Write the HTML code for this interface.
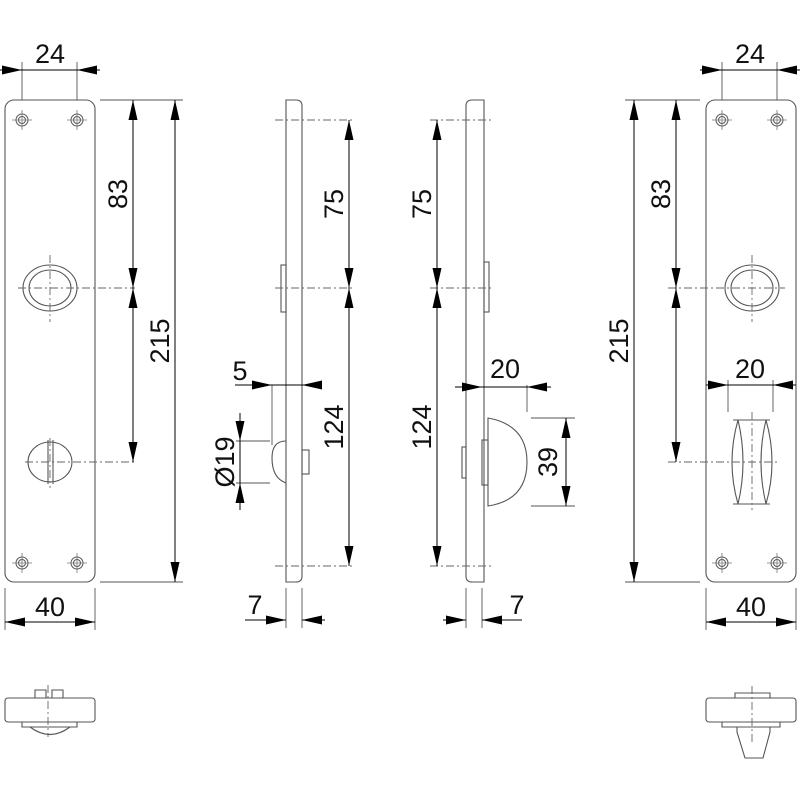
<!DOCTYPE html>
<html><head><meta charset="utf-8"><style>
html,body{margin:0;padding:0;background:#fff;width:800px;height:800px;overflow:hidden}
text{font-family:"Liberation Sans",Arial,sans-serif;font-size:27px;fill:#111}
</style></head><body>
<svg width="800" height="800" viewBox="0 0 800 800" xmlns="http://www.w3.org/2000/svg">
<defs>
<marker id="a" viewBox="0 0 20 9" refX="20" refY="4.5" markerWidth="20" markerHeight="9" markerUnits="userSpaceOnUse" orient="auto-start-reverse"><path d="M0,0L20,4.5L0,9z" fill="#000"/></marker>
<g id="scr"><circle r="6" fill="none" stroke="#555" stroke-width="1"/><circle r="3.5" fill="none" stroke="#555" stroke-width="1"/><line x1="-10" y1="0" x2="10" y2="0" stroke="#777" stroke-width="0.8"/><line x1="0" y1="-10" x2="0" y2="10" stroke="#777" stroke-width="0.8"/></g>
</defs>
<g fill="none" stroke="#555" stroke-width="1.1">
<rect x="5" y="100" width="90" height="482" rx="9"/>
<ellipse cx="50" cy="288" rx="27" ry="23"/><ellipse cx="50" cy="288" rx="21" ry="18"/>
<ellipse cx="50" cy="462" rx="22" ry="20"/>
<line x1="48" y1="440" x2="48" y2="484"/><line x1="53" y1="440" x2="53" y2="484"/>
<rect x="706" y="100" width="90" height="482" rx="9"/>
<ellipse cx="752" cy="288" rx="27" ry="23"/><ellipse cx="752" cy="288" rx="21" ry="18"/>
<path d="M733,420 H770 M733,504 H770"/>
<path d="M738,420 Q726,462 738,504"/><path d="M738,420 Q748,462 738,504"/>
<path d="M766,420 Q756,462 766,504"/><path d="M766,420 Q778,462 766,504"/>
<path d="M286,100 H296 Q302,100 302,106 V576 Q302,582 296,582 H286Z"/>
<rect x="281" y="265" width="5" height="47"/>
<path d="M286,441 Q272,441 272,458 Q272,478 286,483"/>
<rect x="302" y="450" width="7" height="24"/>
<path d="M472,100 H484 V582 H472 Q466,582 466,576 V106 Q466,100 472,100Z"/>
<rect x="484" y="262" width="5" height="50"/>
<rect x="462" y="447" width="4" height="31"/>
<rect x="482" y="440" width="6" height="45"/>
<path d="M488,418 Q527,425 527,462 Q527,500 488,506 Z"/>
<rect x="5" y="698" width="90" height="24" rx="3"/>
<path d="M35,698 V690 H46 V698 M52,698 V690 H63 V698"/>
<path d="M22,722 V727 H77 V722"/>
<path d="M30,727 Q50,742 70,727"/>
<rect x="706" y="698" width="90" height="24" rx="3"/>
<path d="M735,698 V693 H770 V698"/>
<path d="M722,722 V727 H780 V722"/>
<path d="M737,727 V732 L745,758 H763 L770,732 V727"/>
</g>
<use href="#scr" x="22" y="120"/><use href="#scr" x="77" y="120"/><use href="#scr" x="22" y="563"/><use href="#scr" x="77" y="563"/>
<use href="#scr" x="722" y="120"/><use href="#scr" x="777" y="120"/><use href="#scr" x="722" y="563"/><use href="#scr" x="777" y="563"/>
<g stroke="#666" stroke-width="0.9" fill="none" stroke-dasharray="8,3,2,3">
<line x1="18" y1="288" x2="135" y2="288"/><line x1="50" y1="255" x2="50" y2="322"/>
<line x1="25" y1="462" x2="135" y2="462"/><line x1="50" y1="438" x2="50" y2="488"/>
<line x1="668" y1="288" x2="785" y2="288"/><line x1="752" y1="255" x2="752" y2="322"/>
<line x1="668" y1="462" x2="778" y2="462"/><line x1="752" y1="412" x2="752" y2="510"/>
<line x1="275" y1="120" x2="355" y2="120"/><line x1="275" y1="288" x2="355" y2="288"/><line x1="275" y1="566" x2="355" y2="566"/>
<line x1="430" y1="120" x2="493" y2="120"/><line x1="430" y1="288" x2="493" y2="288"/><line x1="430" y1="566" x2="493" y2="566"/>
<line x1="48" y1="685" x2="48" y2="737"/><line x1="752" y1="686" x2="752" y2="745"/>
</g>
<g stroke="#555" stroke-width="0.9">
<line x1="22" y1="62" x2="22" y2="100"/><line x1="77" y1="62" x2="77" y2="100"/>
<line x1="100" y1="100" x2="183" y2="100"/><line x1="100" y1="582" x2="183" y2="582"/>
<line x1="5" y1="588" x2="5" y2="630"/><line x1="95" y1="588" x2="95" y2="630"/>
<line x1="722" y1="62" x2="722" y2="100"/><line x1="777" y1="62" x2="777" y2="100"/>
<line x1="625" y1="100" x2="700" y2="100"/><line x1="625" y1="582" x2="700" y2="582"/>
<line x1="706" y1="588" x2="706" y2="630"/><line x1="796" y1="588" x2="796" y2="630"/>
<line x1="728" y1="380" x2="728" y2="412"/><line x1="773" y1="380" x2="773" y2="412"/>
<line x1="272" y1="385" x2="272" y2="445"/>
<line x1="236" y1="441" x2="270" y2="441"/><line x1="236" y1="483" x2="270" y2="483"/>
<line x1="286" y1="588" x2="286" y2="628"/><line x1="302" y1="588" x2="302" y2="628"/>
<line x1="466" y1="588" x2="466" y2="628"/><line x1="482" y1="588" x2="482" y2="628"/>
<line x1="527" y1="385" x2="527" y2="412"/>
<line x1="531" y1="418" x2="575" y2="418"/><line x1="531" y1="506" x2="575" y2="506"/>
</g>
<g stroke="#000" stroke-width="1" fill="none">
<line x1="0" y1="70" x2="22" y2="70" marker-end="url(#a)"/><line x1="100" y1="70" x2="77" y2="70" marker-end="url(#a)"/><line x1="22" y1="70" x2="77" y2="70"/>
<line x1="175" y1="100" x2="175" y2="582" marker-start="url(#a)" marker-end="url(#a)"/>
<line x1="133" y1="100" x2="133" y2="288" marker-start="url(#a)" marker-end="url(#a)"/>
<line x1="133" y1="288" x2="133" y2="462" marker-start="url(#a)" marker-end="url(#a)"/>
<line x1="5" y1="622" x2="95" y2="622" marker-start="url(#a)" marker-end="url(#a)"/>
<line x1="700" y1="70" x2="722" y2="70" marker-end="url(#a)"/><line x1="800" y1="70" x2="777" y2="70" marker-end="url(#a)"/><line x1="722" y1="70" x2="777" y2="70"/>
<line x1="634" y1="100" x2="634" y2="582" marker-start="url(#a)" marker-end="url(#a)"/>
<line x1="676" y1="100" x2="676" y2="288" marker-start="url(#a)" marker-end="url(#a)"/>
<line x1="676" y1="288" x2="676" y2="462" marker-start="url(#a)" marker-end="url(#a)"/>
<line x1="706" y1="622" x2="796" y2="622" marker-start="url(#a)" marker-end="url(#a)"/>
<line x1="706" y1="385" x2="728" y2="385" marker-end="url(#a)"/><line x1="796" y1="385" x2="773" y2="385" marker-end="url(#a)"/><line x1="728" y1="385" x2="773" y2="385"/>
<line x1="349" y1="120" x2="349" y2="288" marker-start="url(#a)" marker-end="url(#a)"/>
<line x1="349" y1="288" x2="349" y2="566" marker-start="url(#a)" marker-end="url(#a)"/>
<line x1="437" y1="120" x2="437" y2="288" marker-start="url(#a)" marker-end="url(#a)"/>
<line x1="437" y1="288" x2="437" y2="566" marker-start="url(#a)" marker-end="url(#a)"/>
<line x1="235" y1="385" x2="272" y2="385" marker-end="url(#a)"/><line x1="322" y1="385" x2="302" y2="385" marker-end="url(#a)"/><line x1="272" y1="385" x2="302" y2="385"/>
<line x1="240" y1="413" x2="240" y2="441" marker-end="url(#a)"/><line x1="240" y1="510" x2="240" y2="483" marker-end="url(#a)"/><line x1="240" y1="441" x2="240" y2="483"/>
<line x1="245" y1="620" x2="286" y2="620" marker-end="url(#a)"/><line x1="325" y1="620" x2="302" y2="620" marker-end="url(#a)"/>
<line x1="443" y1="620" x2="466" y2="620" marker-end="url(#a)"/><line x1="522" y1="620" x2="482" y2="620" marker-end="url(#a)"/>
<line x1="455" y1="387" x2="482" y2="387" marker-end="url(#a)"/><line x1="551" y1="387" x2="527" y2="387" marker-end="url(#a)"/><line x1="482" y1="387" x2="527" y2="387"/>
<line x1="566" y1="418" x2="566" y2="506" marker-start="url(#a)" marker-end="url(#a)"/>
</g>
<text x="50" y="63" text-anchor="middle">24</text>
<text x="750" y="63" text-anchor="middle">24</text>
<text x="50" y="616" text-anchor="middle">40</text>
<text x="751" y="616" text-anchor="middle">40</text>
<text x="750" y="378" text-anchor="middle">20</text>
<text x="505" y="378" text-anchor="middle">20</text>
<text x="240" y="380" text-anchor="middle">5</text>
<text x="255" y="614" text-anchor="middle">7</text>
<text x="517" y="614" text-anchor="middle">7</text>
<g text-anchor="middle">
<text transform="translate(127,194) rotate(-90)">83</text>
<text transform="translate(169,341) rotate(-90)">215</text>
<text transform="translate(670,194) rotate(-90)">83</text>
<text transform="translate(628,341) rotate(-90)">215</text>
<text transform="translate(343,204) rotate(-90)">75</text>
<text transform="translate(343,427) rotate(-90)">124</text>
<text transform="translate(431,204) rotate(-90)">75</text>
<text transform="translate(431,427) rotate(-90)">124</text>
<text transform="translate(234,462) rotate(-90)">Ø19</text>
<text transform="translate(557,462) rotate(-90)">39</text>
</g>
</svg>
</body></html>
